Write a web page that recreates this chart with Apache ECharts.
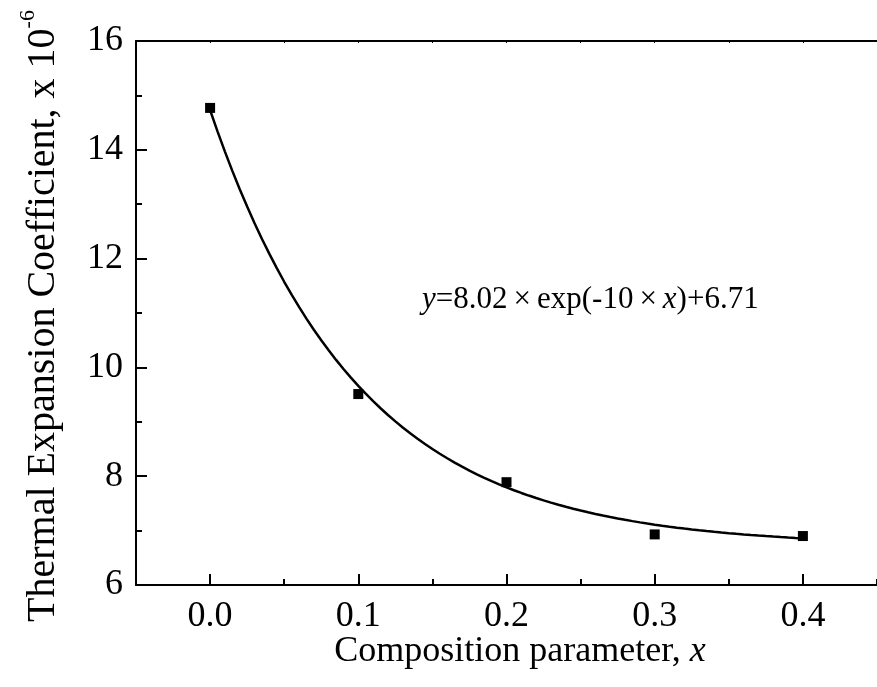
<!DOCTYPE html>
<html>
<head>
<meta charset="utf-8">
<script src="https://cdn.jsdelivr.net/npm/echarts@6/dist/echarts.min.js"></script>
<style>
  html, body { margin: 0; padding: 0; background: #fff; }
  #chart { width: 877px; height: 687px; }
</style>
</head>
<body>
<div id="chart"></div>
<script>
// Measured thermal expansion coefficients (x 10^-6) versus composition x
const compositionX = [0.0, 0.1, 0.2, 0.3, 0.4];
const expansionCoeff = [14.77, 9.51, 7.89, 6.93, 6.90];

// Exponential decay fit: y = A * exp(k * x) + y0
const fitA = 8.02;
const fitK = -10;
const fitY0 = 6.71;

// Axis ticks
const xMajorTicks = [0.0, 0.1, 0.2, 0.3, 0.4];
const xMinorTicks = [-0.05, 0.05, 0.15, 0.25, 0.35, 0.45];
const yRange = [6, 16];

const serif = "'Liberation Serif', 'Times New Roman', serif";

// Fit curve sampled over the measured range
const fitCurve = [];
for (let i = 0; i <= 80; i++) {
  const x = compositionX[0] + (compositionX[compositionX.length - 1] - compositionX[0]) * i / 80;
  fitCurve.push([x, fitA * Math.exp(fitK * x) + fitY0]);
}

const chart = echarts.init(document.getElementById('chart'), null, { renderer: 'canvas' });

const baseXAxis = {
  type: 'value',
  min: -0.05,
  max: 0.45,
  splitLine: { show: false },
  axisLine: { show: true, onZero: false, lineStyle: { color: '#000', width: 2 } }
};

chart.setOption({
  animation: false,
  backgroundColor: '#fff',
  grid: { left: 136, top: 41, right: 0, bottom: 102, containLabel: false },
  xAxis: [
    Object.assign({}, baseXAxis, {
      position: 'bottom',
      axisTick: { show: true, inside: true, length: 11, customValues: xMajorTicks, lineStyle: { color: '#000', width: 2 } },
      axisLabel: {
        show: true, customValues: xMajorTicks, margin: 14,
        color: '#000', fontFamily: serif, fontSize: 36,
        formatter: v => v.toFixed(1)
      }
    }),
    Object.assign({}, baseXAxis, {
      position: 'bottom',
      axisLine: { show: false },
      axisTick: { show: true, inside: true, length: 6, customValues: xMinorTicks, lineStyle: { color: '#000', width: 2 } },
      axisLabel: { show: false }
    }),
    Object.assign({}, baseXAxis, {
      position: 'top',
      axisTick: { show: true, inside: true, length: 2, customValues: xMajorTicks.concat(xMinorTicks), lineStyle: { color: '#000', width: 1 } },
      axisLabel: { show: false }
    })
  ],
  yAxis: [
    {
      type: 'value',
      min: yRange[0],
      max: yRange[1],
      interval: 2,
      position: 'left',
      splitLine: { show: false },
      axisLine: { show: true, onZero: false, lineStyle: { color: '#000', width: 2 } },
      axisTick: { show: true, inside: true, length: 11, lineStyle: { color: '#000', width: 2 } },
      minorTick: { show: true, splitNumber: 2, length: 6, lineStyle: { color: '#000', width: 2 } },
      axisLabel: { margin: 13, color: '#000', fontFamily: serif, fontSize: 36 }
    }
  ],
  series: [
    {
      type: 'line',
      data: fitCurve,
      showSymbol: false,
      symbol: 'none',
      lineStyle: { color: '#000', width: 2.5 },
      z: 2
    },
    {
      type: 'scatter',
      data: compositionX.map((x, i) => [x, expansionCoeff[i]]),
      symbol: 'rect',
      symbolSize: 10,
      itemStyle: { color: '#000', opacity: 1 },
      z: 3
    }
  ],
  graphic: [
    {
      type: 'text',
      x: 40,
      y: 316,
      rotation: Math.PI / 2,
      style: {
        text: '{a|Thermal Expansion Coefficient, x 10}{b|-6}',
        align: 'center',
        verticalAlign: 'middle',
        fill: '#000',
        rich: {
          a: { fontFamily: serif, fontSize: 40, lineHeight: 46, fill: '#000', verticalAlign: 'bottom' },
          b: { fontFamily: serif, fontSize: 22, lineHeight: 46, fill: '#000', verticalAlign: 'top' }
        }
      }
    },
    {
      type: 'text',
      x: 520,
      y: 652,
      style: {
        text: '{a|Composition parameter, }{i|x}',
        align: 'center',
        verticalAlign: 'middle',
        fill: '#000',
        rich: {
          a: { fontFamily: serif, fontSize: 36, fill: '#000' },
          i: { fontFamily: serif, fontSize: 36, fontStyle: 'italic', fill: '#000' }
        }
      }
    },
    {
      type: 'text',
      x: 422,
      y: 300,
      style: {
        text: '{i|y}{a|=' + fitA.toFixed(2) + '}{m|\u00d7}{a|exp(' + fitK + '}{m|\u00d7}{i|x}{a|)+' + fitY0.toFixed(2) + '}',
        align: 'left',
        verticalAlign: 'middle',
        fill: '#000',
        rich: {
          a: { fontFamily: serif, fontSize: 31, fill: '#000' },
          m: { fontFamily: serif, fontSize: 31, fill: '#000', padding: [0, 6, 0, 6] },
          i: { fontFamily: serif, fontSize: 31, fontStyle: 'italic', fill: '#000' }
        }
      }
    }
  ]
});
</script>
</body>
</html>
